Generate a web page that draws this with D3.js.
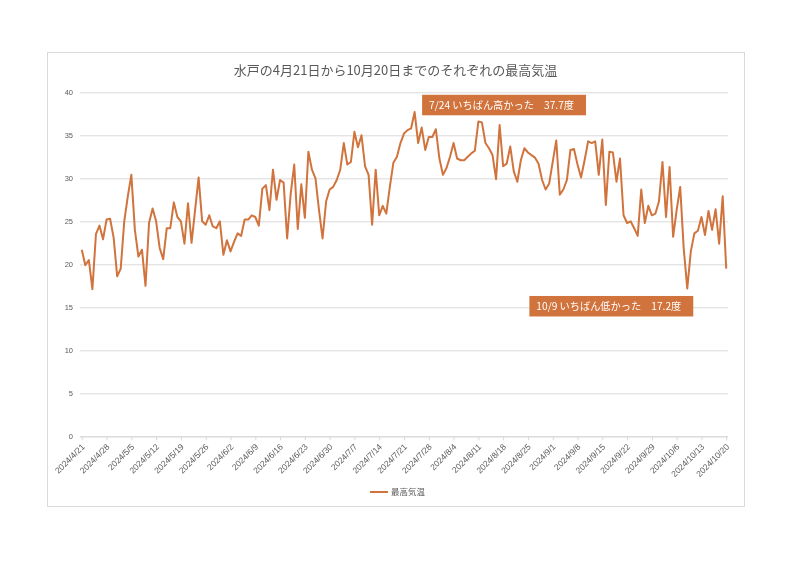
<!DOCTYPE html>
<html>
<head>
<meta charset="utf-8">
<script src="https://cdn.jsdelivr.net/npm/d3@7"></script>
<style>
  html, body { margin: 0; padding: 0; background: #ffffff; }
  svg { display: block; }
  text { font-family: "Noto Sans CJK JP", "Noto Sans", sans-serif; }
  .axis { opacity: 0.995; }
</style>
</head>
<body>
<svg id="chart" width="801" height="566"></svg>
<script>
// ---- data ----
const startDate = "2024-04-21";
const seriesName = "最高気温";
const titleText = "水戸の4月21日から10月20日までのそれぞれの最高気温";
const maxTemps = [
  21.7, 19.9, 20.5, 17.1, 23.5, 24.5, 22.9, 25.2, 25.3, 23.1,
  18.6, 19.5, 25.0, 27.9, 30.4, 24.0, 20.9, 21.7, 17.5, 24.8,
  26.5, 25.0, 21.9, 20.6, 24.2, 24.2, 27.2, 25.5, 25.0, 22.4,
  27.1, 22.5, 26.3, 30.1, 25.0, 24.6, 25.7, 24.4, 24.2, 25.0,
  21.1, 22.8, 21.5, 22.6, 23.6, 23.3, 25.2, 25.2, 25.7, 25.5,
  24.5, 28.8, 29.2, 26.3, 31.0, 27.5, 29.8, 29.5, 23.0, 28.2,
  31.6, 24.1, 29.3, 25.4, 33.1, 31.0, 30.0, 26.3, 23.0, 27.3,
  28.7, 29.0, 29.8, 31.0, 34.1, 31.6, 31.9, 35.4, 33.6, 35.0,
  31.4, 30.4, 24.6, 31.0, 25.7, 26.8, 25.9, 29.0, 31.8, 32.5,
  34.1, 35.2, 35.6, 35.8, 37.7, 34.1, 35.9, 33.3, 34.8, 34.8,
  35.7, 32.3, 30.4, 31.2, 32.5, 34.1, 32.3, 32.1, 32.1, 32.5,
  32.9, 33.2, 36.6, 36.5, 34.1, 33.5, 32.7, 29.9, 36.2, 31.4,
  31.7, 33.7, 30.8, 29.6, 32.1, 33.5, 33.0, 32.7, 32.4, 31.7,
  29.8, 28.7, 29.4, 31.9, 34.4, 28.1, 28.7, 29.8, 33.3, 33.4,
  31.6, 30.1, 32.1, 34.3, 34.1, 34.3, 30.4, 34.5, 26.9, 33.1,
  33.0, 29.6, 32.3, 25.7, 24.8, 25.0, 24.2, 23.3, 28.7, 24.8,
  26.8, 25.7, 25.9, 27.3, 31.9, 25.5, 31.3, 23.2, 26.3, 29.0,
  21.8, 17.2, 21.5, 23.6, 23.9, 25.5, 23.4, 26.2, 24.0, 26.4,
  22.4, 27.9, 19.5
];
const tickLabels = [
  "2024/4/21", "2024/4/28", "2024/5/5", "2024/5/12", "2024/5/19", "2024/5/26",
  "2024/6/2", "2024/6/9", "2024/6/16", "2024/6/23", "2024/6/30", "2024/7/7",
  "2024/7/14", "2024/7/21", "2024/7/28", "2024/8/4", "2024/8/11", "2024/8/18",
  "2024/8/25", "2024/9/1", "2024/9/8", "2024/9/15", "2024/9/22", "2024/9/29",
  "2024/10/6", "2024/10/13", "2024/10/20"
];
const yTicks = [0, 5, 10, 15, 20, 25, 30, 35, 40];
const highNote = "7/24 いちばん高かった\u300037.7度";
const lowNote = "10/9 いちばん低かった\u300017.2度";

// ---- build categories ----
const fmt = d3.timeFormat("%Y/%-m/%-d");
const d0 = new Date(startDate + "T00:00:00");
const dates = maxTemps.map((_, i) => fmt(d3.timeDay.offset(d0, i)));
const data = dates.map((d, i) => ({ date: d, v: maxTemps[i] }));

// ---- layout ----
const color = "#D1733C";
const textColor = "#595959";
const gridColor = "#D9D9D9";
const plot = { left: 80, right: 728, top: 92.3, bottom: 436.3 };

const svg = d3.select("#chart");

svg.append("rect")
  .attr("x", 47.5).attr("y", 52.5)
  .attr("width", 697).attr("height", 454)
  .attr("fill", "#fff").attr("stroke", gridColor).attr("stroke-width", 1);

const x = d3.scalePoint().domain(dates).range([plot.left, plot.right]).padding(0.5);
const y = d3.scaleLinear().domain([0, 40]).range([plot.bottom, plot.top]);

// gridlines + y labels
const yAxis = d3.axisLeft(y).tickValues(yTicks)
  .tickSize(-(plot.right - plot.left)).tickPadding(7).tickFormat(d3.format("d"));
const gy = svg.append("g").attr("class", "axis").attr("color", textColor)
  .attr("transform", `translate(${plot.left},0)`).call(yAxis);
gy.select(".domain").remove();
gy.selectAll(".tick line").attr("stroke", gridColor).attr("stroke-width", 1);
gy.selectAll(".tick text").attr("fill", textColor)
  .style("font-family", "'Liberation Sans', Arial, sans-serif").style("font-size", "7.5px");

// x axis
const xAxis = d3.axisBottom(x).tickValues(tickLabels).tickSize(4).tickPadding(2);
const gx = svg.append("g").attr("class", "axis").attr("color", textColor)
  .attr("transform", `translate(0,${plot.bottom})`).call(xAxis);
gx.select(".domain").attr("stroke", gridColor)
  .attr("d", `M${plot.left},0.5H${plot.right}`);
gx.selectAll(".tick line").attr("stroke", gridColor);
gx.selectAll(".tick text")
  .attr("fill", textColor)
  .style("font-family", "'Liberation Sans', Arial, sans-serif").style("font-size", "8.5px")
  .attr("text-anchor", "end")
  .attr("dy", null)
  .attr("transform", "translate(3,11) rotate(-45)")
  .attr("y", 0).attr("x", 0);

// line
const line = d3.line().x(d => x(d.date)).y(d => y(d.v));
svg.append("path").datum(data)
  .attr("fill", "none").attr("stroke", color).attr("stroke-width", 2)
  .attr("stroke-linejoin", "round").attr("d", line);

// title
svg.append("text").attr("x", 395.5).attr("y", 75)
  .attr("text-anchor", "middle").attr("fill", textColor)
  .style("font-size", "13px").text(titleText);

// annotations
function note(str, anchorX, anchorY, dx, dy, alignRight) {
  const g = svg.append("g");
  const r = g.append("rect").attr("fill", color);
  const t = g.append("text").attr("fill", "#fff").style("font-size", "10.2px").text(str);
  const w = t.node().getComputedTextLength() + 19;
  const h = 20.5;
  const bx = alignRight ? anchorX + dx - w : anchorX + dx;
  const by = anchorY + dy;
  r.attr("x", bx).attr("y", by).attr("width", w).attr("height", h);
  t.attr("x", bx + 7).attr("y", by + 14.5);
}
const iMax = d3.maxIndex(maxTemps);
const iMin = d3.minIndex(maxTemps.slice(100)) + 100;
note(highNote, x(dates[iMax]), y(maxTemps[iMax]), 7.5, -17.3, false);
note(lowNote, x(dates[iMin]), y(maxTemps[iMin]), 6, 7.6, true);

// legend
svg.append("line").attr("x1", 370).attr("x2", 388).attr("y1", 492).attr("y2", 492)
  .attr("stroke", color).attr("stroke-width", 2);
svg.append("text").attr("x", 391).attr("y", 495).attr("fill", textColor)
  .style("font-size", "8.5px").text(seriesName);
</script>
</body>
</html>
